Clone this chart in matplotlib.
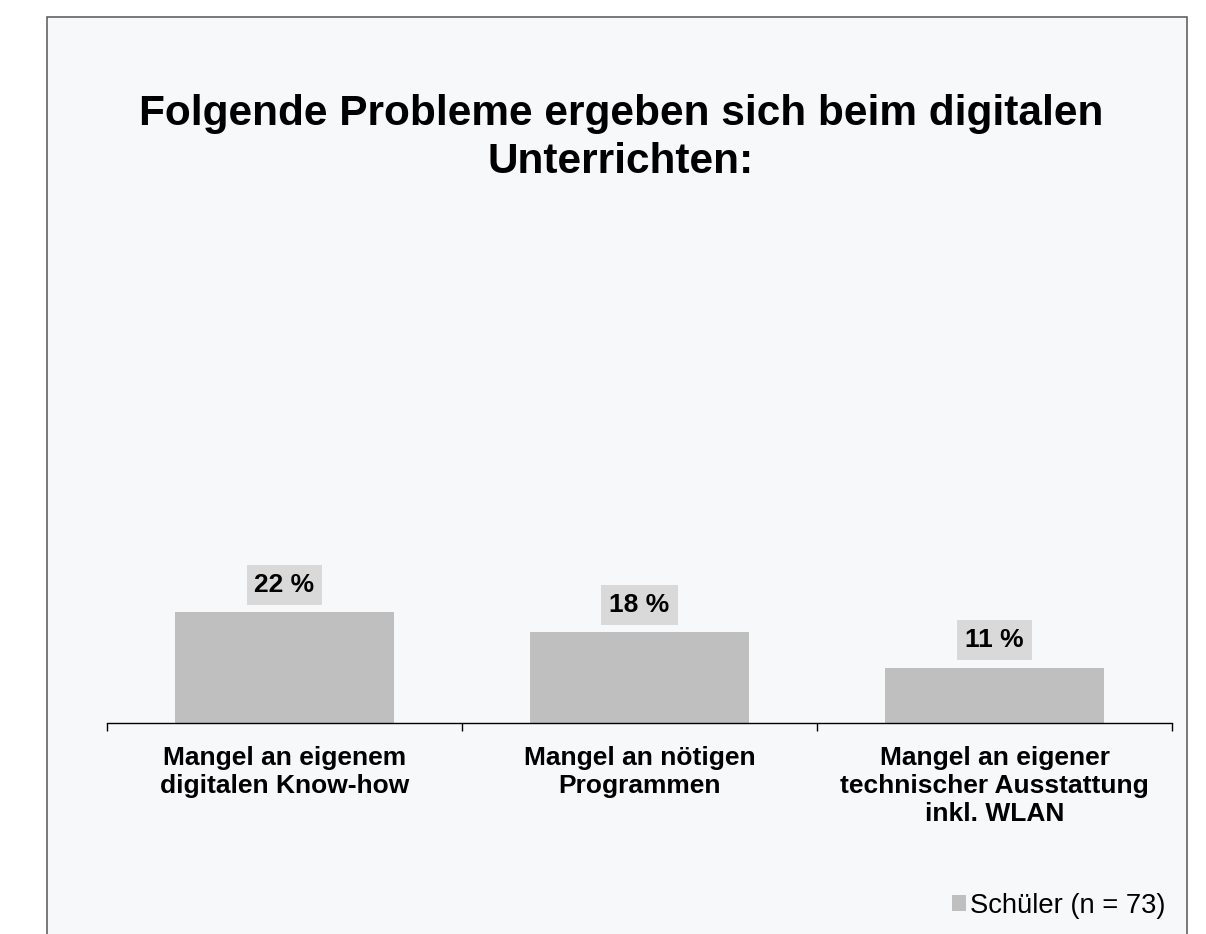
import matplotlib
matplotlib.use("Agg")
import matplotlib.pyplot as plt
from matplotlib.patches import Rectangle, Patch

plt.rcParams['font.family'] = ['Liberation Sans', 'DejaVu Sans']

# ---- data ----
categories = [
    "Mangel an eigenem\ndigitalen Know-how",
    "Mangel an nötigen\nProgrammen",
    "Mangel an eigener\ntechnischer Ausstattung\ninkl. WLAN",
]
values = [22, 18, 11]
value_labels = ["22 %", "18 %", "11 %"]
series_name = "Schüler (n = 73)"
title = "Folgende Probleme ergeben sich beim digitalen\nUnterrichten:"

W, H = 1206, 934
fig = plt.figure(figsize=(W / 100, H / 100), dpi=100, facecolor='white')

# slide-like frame
frame = Rectangle((47 / W, -0.05), (1187 - 47) / W, (H - 17) / H + 0.05,
                  transform=fig.transFigure, facecolor='#F7F8FA',
                  edgecolor='#555555', linewidth=1.1, zorder=-10)
fig.patches.append(frame)

ax = fig.add_axes([107 / W, (H - 723) / H, (1172 - 107) / W, 503 / H])
ax.set_facecolor('none')

bar_color = '#BFBFBF'
x = list(range(len(categories)))
bars = ax.bar(x, values, width=0.617, color=bar_color, zorder=2)

ax.set_xlim(-0.5, len(categories) - 0.5)
ax.set_ylim(0, 100)

for spine in ['left', 'right', 'top']:
    ax.spines[spine].set_visible(False)
ax.spines['bottom'].set_color('black')
ax.spines['bottom'].set_linewidth(1.0)
ax.yaxis.set_visible(False)

# major ticks at category boundaries, minor ticks carry labels
ax.set_xticks([i - 0.5 for i in range(len(categories) + 1)])
ax.set_xticklabels([])
ax.tick_params(axis='x', which='major', direction='out', length=5.5,
               width=1.0, color='black')
ax.set_xticks(x, minor=True)
ax.set_xticklabels(categories, minor=True, fontsize=19, fontweight='bold')
ax.tick_params(axis='x', which='minor', length=0, pad=16.5)
for lbl in ax.get_xticklabels(minor=True):
    lbl.set_multialignment('center')

# value labels
for xi, v, lab in zip(x, values, value_labels):
    ax.annotate(lab, xy=(xi, v), xytext=(0, 19.8), textcoords='offset points',
                ha='center', va='center', fontsize=19, fontweight='bold',
                bbox=dict(boxstyle='square,pad=0.3', facecolor='#D9D9D9',
                          edgecolor='none'), zorder=3)

# title
fig.text(621 / W, 1 - 94 / H, title, ha='center', va='top', fontsize=30.5,
         fontweight='bold', linespacing=1.25, multialignment='center')

# legend
fig.legend(handles=[Patch(facecolor=bar_color, edgecolor='none', label=series_name)],
           loc='center left', bbox_to_anchor=(952 / W, 1 - 906 / H),
           frameon=False, fontsize=19.7, handlelength=0.52, handleheight=0.52,
           handletextpad=0.15, borderpad=0, borderaxespad=0)

fig.savefig('out.png', dpi=100, facecolor='white')
